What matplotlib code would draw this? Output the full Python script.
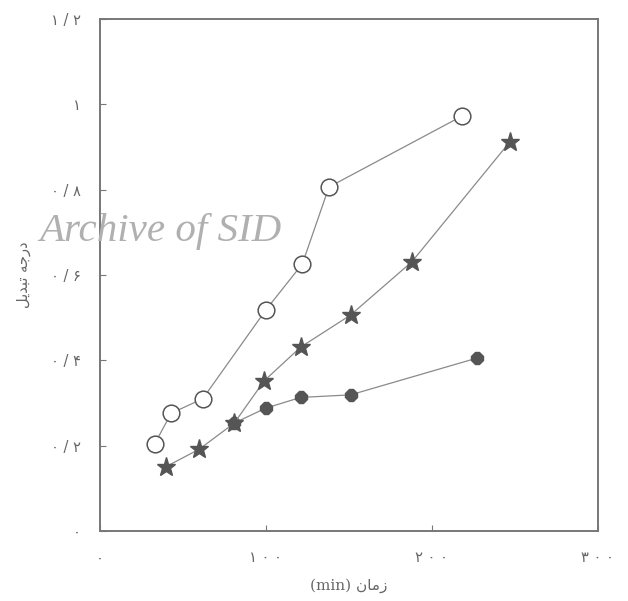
import matplotlib.pyplot as plt

# time (min) and conversion degree
t_circle = [33, 43, 62, 100, 122, 138, 218]
y_circle = [0.204, 0.276, 0.310, 0.518, 0.626, 0.806, 0.972]

t_star = [40, 60, 81, 99, 121, 151, 188, 247]
y_star = [0.151, 0.192, 0.253, 0.352, 0.431, 0.506, 0.631, 0.912]

t_dot = [81, 100, 121, 151, 227]
y_dot = [0.253, 0.288, 0.313, 0.319, 0.405]

x_ticks = [0, 100, 200, 300]
x_tick_labels = ["۰", "۱ ۰ ۰", "۲ ۰ ۰", "۳ ۰ ۰"]
y_ticks = [0, 0.2, 0.4, 0.6, 0.8, 1.0, 1.2]
y_tick_labels = ["۰", "۰ / ۲", "۰ / ۴", "۰ / ۶", "۰ / ۸", "۱", "۱ / ۲"]

# Arabic letters in presentation forms, visual order (matplotlib does no shaping)
y_label = "\uFEDE\uFEF3\uFEAA\uFE92\uFE97 \uFEEA\uFE9F\uFEAD\uFEA9"   # درجه تبدیل
x_label = "(min) \uFEE5\uFE8E\uFEE3\uFEAF"                            # زمان (min)

line_c = "#8a8a8a"
mark_c = "#555555"

fig = plt.figure(figsize=(6.28, 6.01), dpi=100)
ax = fig.add_axes([0.159, 0.1165, 0.793, 0.852])

ax.plot(t_circle, y_circle, color=line_c, lw=0.9, marker='o', ms=12,
        mfc='white', mec='#555555', mew=1.1, zorder=3)
ax.plot(t_dot, y_dot, color=line_c, lw=0.9, marker='8', ms=9,
        mfc=mark_c, mec=mark_c, zorder=3)
ax.plot(t_star, y_star, color=line_c, lw=0.9, marker='*', ms=14,
        mfc=mark_c, mec=mark_c, zorder=4)

ax.set_xlim(0, 300)
ax.set_ylim(0, 1.2)
ax.set_xticks(x_ticks)
ax.set_xticklabels(x_tick_labels, family=['DejaVu Sans'], color='#666666', fontsize=10.5)
ax.set_yticks(y_ticks)
ax.set_yticklabels(y_tick_labels, family=['DejaVu Sans'], color='#666666', fontsize=10.5)
ax.tick_params(direction='in', length=4, color='#777777', pad=14)

for s in ax.spines.values():
    s.set_color('#777777')
    s.set_linewidth(1.4)

ax.set_xlabel(x_label, family=['DejaVu Serif', 'DejaVu Sans'], color='#666666',
              fontsize=11, labelpad=9)
ax.set_ylabel(y_label, family=['DejaVu Sans'], color='#666666', fontsize=10.5, labelpad=14)

fig.text(0.062, 0.614, "Archive of SID", family='Liberation Serif', style='italic',
         fontsize=29.5, color='#b0b0b0', va='center', ha='left')

plt.savefig('out.png', dpi=100)
